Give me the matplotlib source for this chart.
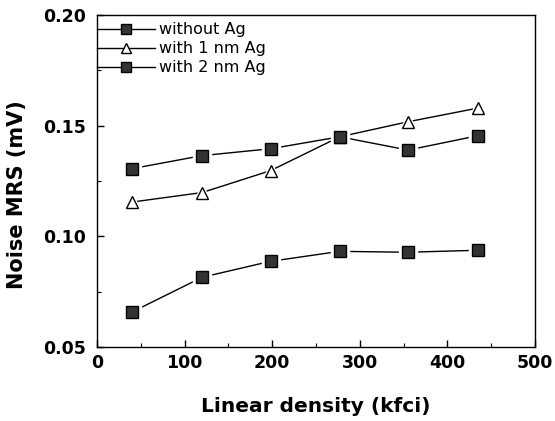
import matplotlib
matplotlib.use("Agg")
import matplotlib.pyplot as plt
from matplotlib.ticker import MultipleLocator

plt.rcParams['font.family'] = ['DejaVu Sans']

density = [40, 120, 198, 277, 355, 435]
without_ag = [0.0658, 0.0815, 0.0887, 0.0932, 0.0928, 0.0937]
with_1nm = [0.1155, 0.1198, 0.1297, 0.1450, 0.1518, 0.1580]
with_2nm = [0.1306, 0.1365, 0.1396, 0.1450, 0.1390, 0.1455]
labels = ["without Ag", "with 1 nm Ag", "with 2 nm Ag"]
xticks = [0, 100, 200, 300, 400, 500]
yticks = [0.05, 0.10, 0.15, 0.20]

fig = plt.figure(figsize=(5.55, 4.21), dpi=100)
ax = fig.add_axes([0.175, 0.176, 0.789, 0.788])

series = [(without_ag, 's', '#333333'), (with_1nm, '^', 'white'), (with_2nm, 's', '#333333')]
handles = []
for (vals, mk, fc), lab in zip(series, labels):
    ax.plot(density, vals, color='black', lw=1.0, zorder=2)
    ax.plot(density, vals, ls='none', marker=mk, ms=13, mfc='white', mec='white', zorder=3)
    ax.plot(density, vals, ls='none', marker=mk, ms=9, mfc=fc, mec='black', mew=1.0, zorder=4)
    handles.append(plt.Line2D([], [], color='black', lw=1.0, marker=mk, ms=7, mfc=fc, mec='black'))

ax.set_xlim(0, 500)
ax.set_ylim(0.05, 0.20)
ax.xaxis.set_minor_locator(MultipleLocator(50))
ax.yaxis.set_minor_locator(MultipleLocator(0.025))
ax.set_yticks(yticks)
ax.set_yticklabels([f"{v:.2f}" for v in yticks], fontweight='bold', fontsize=12.5)
ax.set_xticks(xticks)
ax.set_xticklabels([str(v) for v in xticks], fontweight='bold', fontsize=12.5)
ax.tick_params(which='both', direction='in', top=False, right=False)
ax.tick_params(which='major', length=5, width=1)
ax.tick_params(axis='y', which='major', pad=8)
ax.tick_params(axis='x', which='major', pad=5)
ax.tick_params(which='minor', length=3, width=0.8)
ax.set_xlabel("Linear density (kfci)", fontweight='bold', fontsize=14.5, labelpad=18)
ax.set_ylabel("Noise MRS (mV)", fontweight='bold', fontsize=15)
ax.yaxis.set_label_coords(-0.16, 0.458)
for s in ax.spines.values():
    s.set_linewidth(1.0)

ax.legend(handles, labels, loc='upper left', frameon=False, fontsize=11.5,
          handlelength=3.6, handletextpad=0.3, labelspacing=0.25, borderaxespad=0.0,
          borderpad=0.0, bbox_to_anchor=(0.0, 0.978))

fig.savefig("out.png", dpi=100)
